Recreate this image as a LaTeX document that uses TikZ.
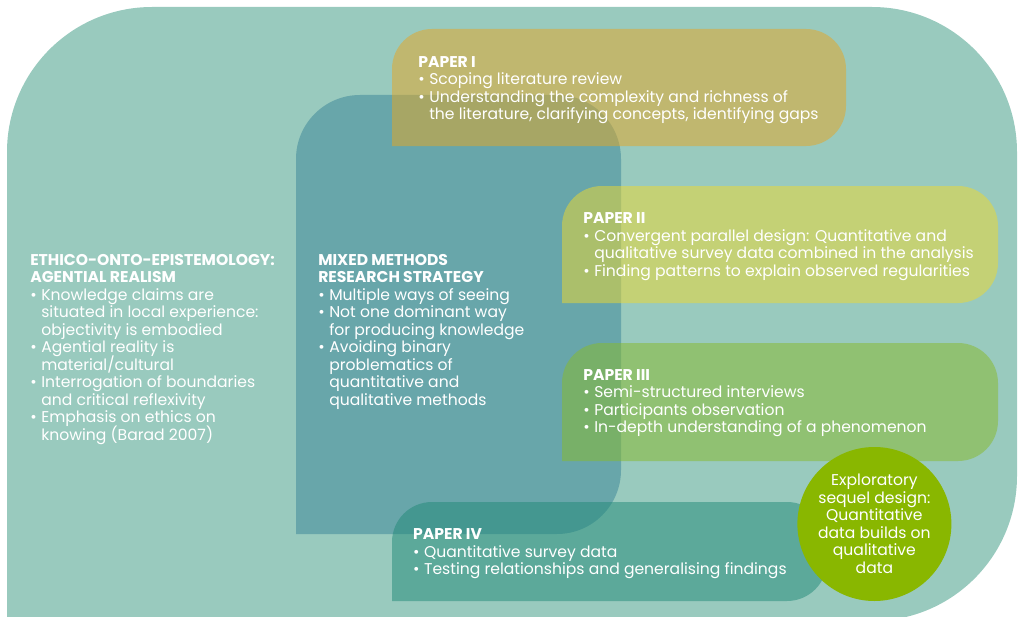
\documentclass[tikz,border=0pt]{standalone}
\usepackage{fontspec}
\setmainfont{Poppins}
\definecolor{outerteal}{HTML}{99CABE}
\definecolor{mixteal}{HTML}{68A6AA}
\definecolor{paperone}{HTML}{E7A622}
\definecolor{papertwo}{HTML}{EFD82E}
\definecolor{paperthree}{HTML}{89BA28}
\definecolor{paperfour}{HTML}{218A78}
\definecolor{seqgreen}{HTML}{89B700}
\usepackage{tikz}
\newcommand{\bitem}{\makebox[0.275cm][l]{\textbullet}}
\newcommand{\bcont}{\hspace*{0.275cm}}
\newcommand{\paperfont}{\fontsize{11.1}{12.45}\selectfont\lineskiplimit=-10pt}

\begin{document}
\begin{tikzpicture}[
  panel/.style={fill opacity=0.5},
  txt/.style={text=white, inner sep=0pt, anchor=north west, align=left,
              font=\paperfont},
]
\useasboundingbox (0,0) rectangle (25.45,15.4);

\fill[outerteal] (0.175,-0.125) [rounded corners=3.625cm] -- (0.175,15.225)
  -- (25.425,15.225) -- (25.425,-0.125) -- (0.175,-0.125);
\fill[mixteal] (7.4,2.05) [rounded corners=1.6cm] -- (7.4,13.025)
  -- (15.525,13.025) -- (15.525,2.05) -- (7.4,2.05);

\fill[paperone, panel] (9.8,11.75) [rounded corners=1cm] -- (9.8,14.675)
  -- (21.15,14.675) -- (21.15,11.75) -- (9.8,11.75);
\fill[papertwo, panel] (14.05,7.825) [rounded corners=1cm] -- (14.05,10.75)
  -- (24.95,10.75) -- (24.95,7.825) -- (14.05,7.825);
\fill[paperthree, panel] (14.05,3.875) [rounded corners=1cm] -- (14.05,6.825)
  -- (24.95,6.825) -- (24.95,3.875) -- (14.05,3.875);
\fill[paperfour, panel] (9.8,0.375) [rounded corners=1cm] -- (9.8,2.85)
  -- (20.675,2.85) -- (20.675,0.375) -- (9.8,0.375);

\node[circle, fill=seqgreen, minimum size=3.85cm, inner sep=0pt, text=white,
      align=center, font=\paperfont] (sequel) at (21.86,2.3) {
  Exploratory\\
  sequel design:\\
  Quantitative\\
  data builds on\\
  qualitative\\
  data
};

\node[txt] (agential) at (0.75,9.05) {
  \textbf{ETHICO-ONTO-EPISTEMOLOGY:}\\
  \textbf{AGENTIAL REALISM}\\
  \bitem Knowledge claims are\\
  \bcont situated in local experience:\\
  \bcont objectivity is embodied\\
  \bitem Agential reality is\\
  \bcont material/cultural\\
  \bitem Interrogation of boundaries\\
  \bcont and critical reflexivity\\
  \bitem Emphasis on ethics on\\
  \bcont knowing (Barad 2007)
};

\node[txt] (mixed) at (7.95,9.05) {
  \textbf{MIXED METHODS}\\
  \textbf{RESEARCH STRATEGY}\\
  \bitem Multiple ways of seeing\\
  \bitem Not one dominant way\\
  \bcont for producing knowledge\\
  \bitem Avoiding binary\\
  \bcont problematics of\\
  \bcont quantitative and\\
  \bcont qualitative methods
};

\node[txt] (paper1) at (10.45,14.0) {
  \textbf{PAPER I}\\
  \bitem Scoping literature review\\
  \bitem Understanding the complexity and richness of\\
  \bcont the literature, clarifying concepts, identifying gaps
};

\node[txt] (paper2) at (14.575,10.09) {
  \textbf{PAPER II}\\
  \bitem Convergent parallel design: Quantitative and\\
  \bcont qualitative survey data combined in the analysis\\
  \bitem Finding patterns to explain observed regularities
};

\node[txt] (paper3) at (14.575,6.17) {
  \textbf{PAPER III}\\
  \bitem Semi-structured interviews\\
  \bitem Participants observation\\
  \bitem In-depth understanding of a phenomenon
};

\node[txt] (paper4) at (10.32,2.19) {
  \textbf{PAPER IV}\\
  \bitem Quantitative survey data\\
  \bitem Testing relationships and generalising findings
};
\end{tikzpicture}
\end{document}
